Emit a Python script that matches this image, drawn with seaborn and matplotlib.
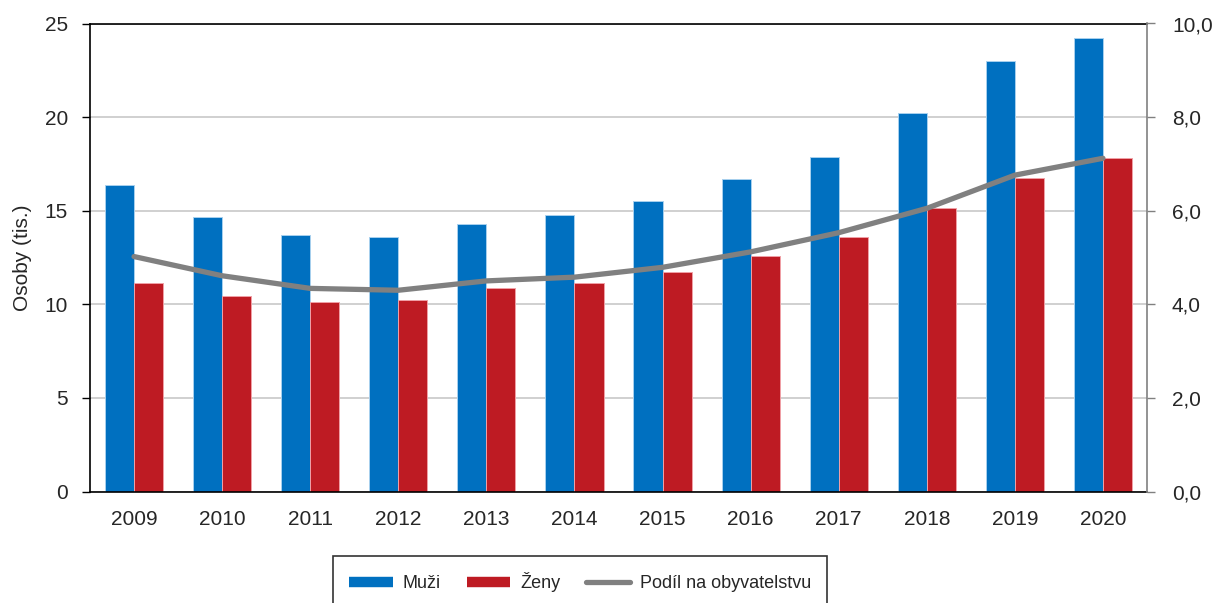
import numpy as np
import pandas as pd
import matplotlib; matplotlib.use("Agg")
import matplotlib.pyplot as plt
from matplotlib.lines import Line2D
from matplotlib.ticker import FuncFormatter
import seaborn as sns

years = ["2009", "2010", "2011", "2012", "2013", "2014",
         "2015", "2016", "2017", "2018", "2019", "2020"]
muzi  = [16.37, 14.66, 13.69, 13.60, 14.27, 14.77,
         15.52, 16.71, 17.85, 20.20, 23.00, 24.23]
zeny  = [11.15, 10.46, 10.14, 10.25, 10.87, 11.15,
         11.74, 12.58, 13.61, 15.13, 16.76, 17.83]
podil = [5.02, 4.61, 4.34, 4.30, 4.50, 4.58,
         4.79, 5.12, 5.53, 6.05, 6.76, 7.12]

series = ["Muži", "Ženy"]
BLUE, RED, GREY = "#0070c0", "#be1b23", "#808080"
EDGE = {"Muži": "#a8d0ee", "Ženy": "#f0a0a6"}

sns.set_style("white")
plt.rcParams["font.family"] = ["Liberation Sans", "DejaVu Sans"]
FS = 15
FS_LEG = 13

df = pd.DataFrame({
    "rok":    years * 2,
    "osoby":  muzi + zeny,
    "pohlavi": [series[0]] * len(years) + [series[1]] * len(years),
})

fig = plt.figure(figsize=(12.13, 6.03), dpi=100)
ax = fig.add_axes([90/1213, 1 - 491.5/603, (1147-90)/1213, (491.5-23.5)/603])

sns.barplot(data=df, x="rok", y="osoby", hue="pohlavi", hue_order=series,
            palette=[BLUE, RED], width=0.66, gap=0, saturation=1,
            ax=ax, legend=False)
for bars, name in zip(ax.containers, series):
    for p in bars:
        p.set_edgecolor(EDGE[name]); p.set_linewidth(0.7)

ax.set_xlim(-0.5, len(years) - 0.5)
ax.set_ylim(0, 25)
ax.set_yticks(range(0, 26, 5))
ax.yaxis.grid(True, color="#c8c8c8", lw=1.2)
ax.set_axisbelow(True)
ax.set_xlabel("")
ax.set_ylabel("Osoby (tis.)", fontsize=FS, labelpad=9)

# year labels in the middle, tick marks between groups
ax.set_xticks(np.arange(-0.5, len(years)), labels=[""] * (len(years) + 1))
ax.set_xticks(np.arange(len(years)), labels=years, minor=True)
ax.tick_params(axis="x", which="major", direction="out", length=5, width=1, color="black")
ax.tick_params(axis="x", which="minor", length=0, labelsize=FS, pad=13)
ax.tick_params(axis="y", direction="out", length=6, width=1, color="black",
               labelsize=FS, left=True, pad=10)
for s in ["left", "bottom", "top"]:
    ax.spines[s].set_color("black"); ax.spines[s].set_linewidth(1.2)
ax.spines["right"].set_visible(False)

ax2 = ax.twinx()
sns.lineplot(x=np.arange(len(years)), y=podil, color=GREY, lw=3.8,
             solid_capstyle="round", ax=ax2)
ax2.set_ylim(0, 10)
ax2.set_yticks(np.arange(0, 10.1, 2))
ax2.yaxis.set_major_formatter(FuncFormatter(lambda v, _: f"{v:.1f}".replace(".", ",")))
ax2.tick_params(axis="y", direction="out", length=6, width=1, color=GREY,
                labelsize=FS, right=True, pad=12)
for s in ["left", "bottom", "top"]:
    ax2.spines[s].set_visible(False)
ax2.spines["right"].set_color(GREY); ax2.spines["right"].set_linewidth(1.2)
ax2.set_xlim(-0.5, len(years) - 0.5)

handles = [
    Line2D([], [], color=BLUE, lw=7.5, solid_capstyle="butt"),
    Line2D([], [], color=RED, lw=7.5, solid_capstyle="butt"),
    Line2D([], [], color=GREY, lw=3.8, solid_capstyle="round"),
]
leg = fig.legend(handles, ["Muži", "Ženy", "Podíl na obyvatelstvu"],
                 loc="upper center", bbox_to_anchor=(580/1213, 1 - 556/603),
                 ncol=3, fontsize=FS_LEG, frameon=True, fancybox=False,
                 edgecolor="black", handlelength=2.4, handletextpad=0.55,
                 columnspacing=1.45, borderpad=0.9, borderaxespad=0)
leg.get_frame().set_linewidth(1.2)

fig.savefig("out.png", dpi=100)
